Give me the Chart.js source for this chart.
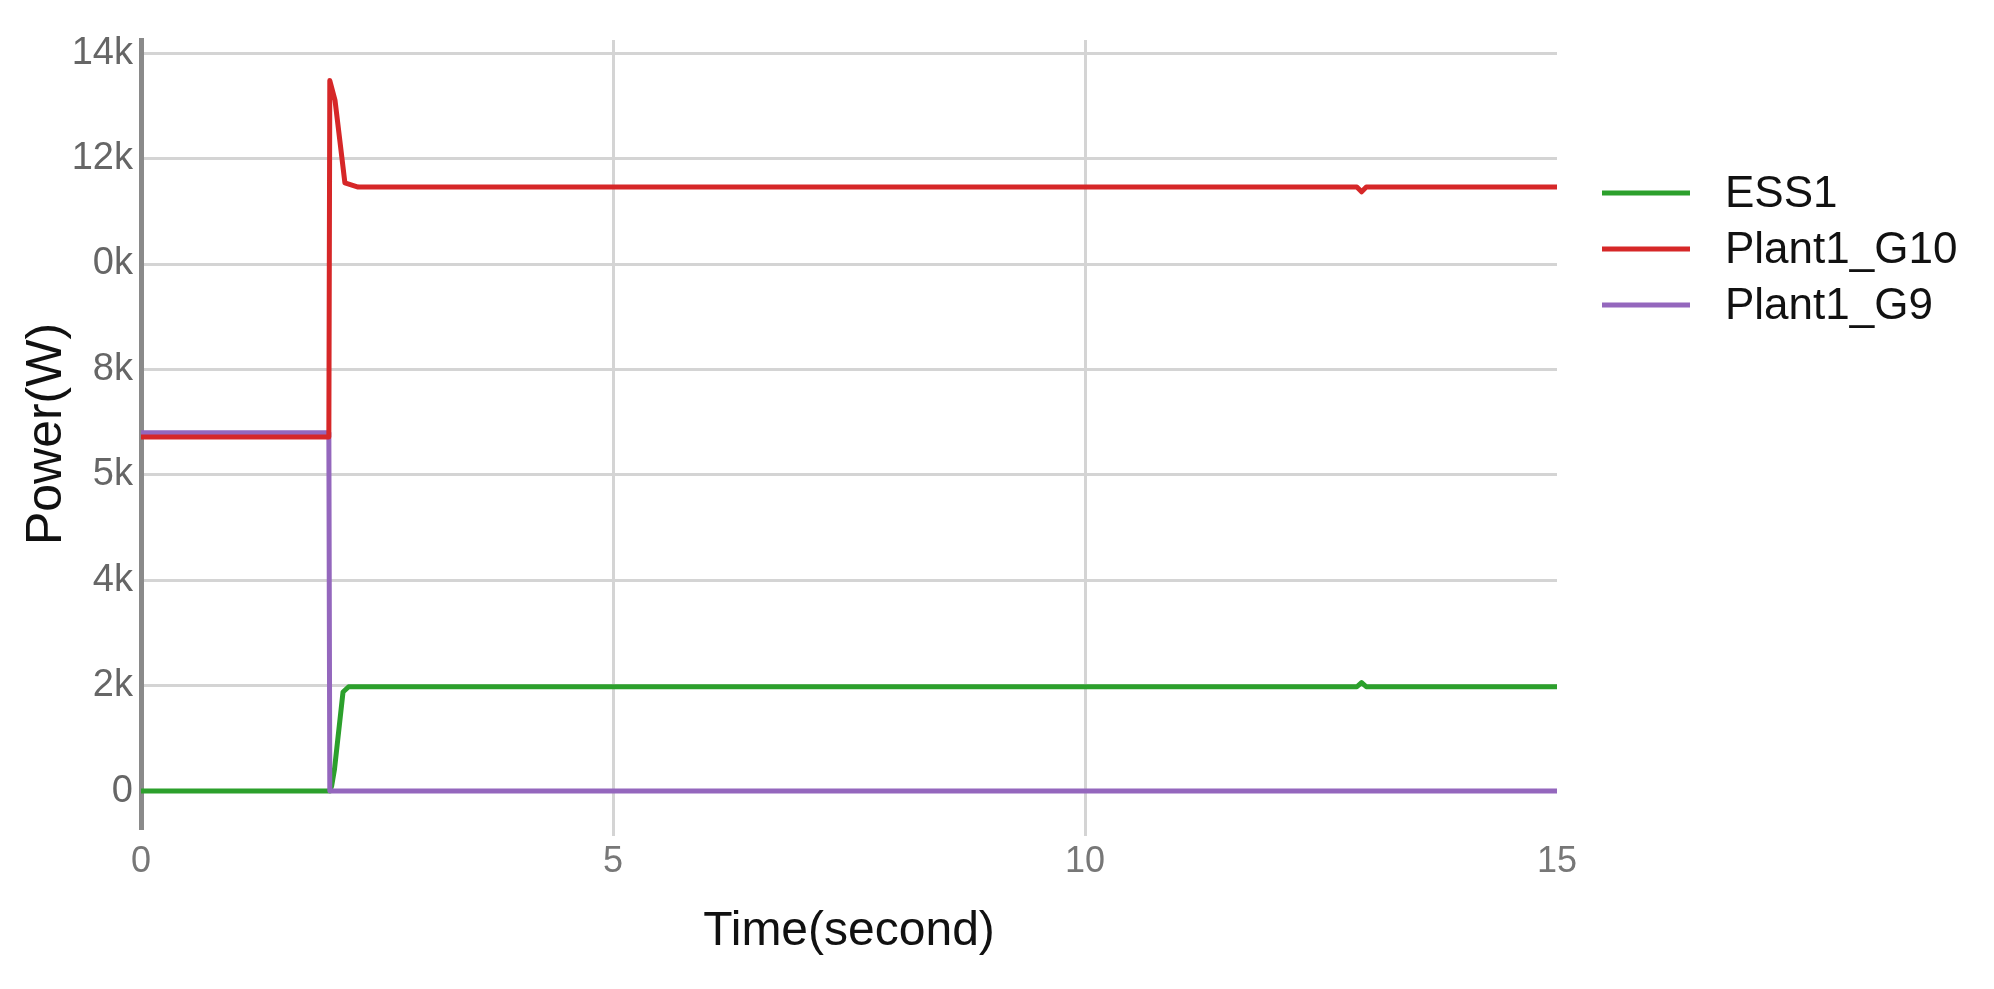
<!DOCTYPE html>
<html>
<head>
<meta charset="utf-8">
<script src="https://cdn.jsdelivr.net/npm/chart.js@4/dist/chart.umd.min.js"></script>
<style>
  html, body { margin: 0; padding: 0; background: #fff; }
  #wrap { width: 1994px; height: 989px; position: relative; }
</style>
</head>
<body>
<div id="wrap"><canvas id="myChart"></canvas></div>
<script>
(function() {
    'use strict';

    // values (time in seconds, power in W)
    const seriesNames = ['ESS1', 'Plant1_G10', 'Plant1_G9'];
    const seriesColors = ['#2ca02c', '#d62728', '#9467bd'];

    const essTime  = [0, 2.0, 2.02, 2.05, 2.14, 2.2, 12.88, 12.93, 12.98, 15];
    const essPower = [0, 0, 100, 420, 1880, 1980, 1980, 2060, 1980, 1980];

    const g10Time  = [0, 1.99, 2.0, 2.055, 2.16, 2.3, 12.88, 12.93, 12.98, 15];
    const g10Power = [6720, 6720, 13480, 13110, 11540, 11460, 11460, 11370, 11460, 11460];

    const g9Time  = [0, 1.99, 2.0, 15];
    const g9Power = [6800, 6800, 0, 0];

    const yTickValues = [0, 2000, 4000, 6000, 8000, 10000, 12000, 14000];
    const yTickLabels = ['0', '2k', '4k', '5k', '8k', '0k', '12k', '14k'];
    const xTickValues = [0, 5, 10, 15];

    const toPoints = (xs, ys) => xs.map((x, i) => ({ x: x, y: ys[i] }));

    const legendLines = {
        id: 'legendLines',
        afterDraw(chart) {
            const ctx = chart.ctx;
            const area = chart.chartArea;
            ctx.save();
            ctx.font = '44px "Liberation Sans", Arial, sans-serif';
            ctx.textBaseline = 'middle';
            ctx.fillStyle = '#111';
            chart.data.datasets.forEach((ds, i) => {
                const y = area.top + 153 + i * 56;
                ctx.strokeStyle = ds.borderColor;
                ctx.lineWidth = 5;
                ctx.beginPath();
                ctx.moveTo(area.right + 45, y);
                ctx.lineTo(area.right + 133, y);
                ctx.stroke();
                ctx.fillText(ds.label, area.right + 168, y + 2);
            });
            ctx.restore();
        }
    };

    const ctx = document.getElementById('myChart');

    new Chart(ctx, {
        type: 'line',
        data: {
            datasets: [
                { label: seriesNames[0], data: toPoints(essTime, essPower), borderColor: seriesColors[0], order: 2 },
                { label: seriesNames[1], data: toPoints(g10Time, g10Power), borderColor: seriesColors[1], order: 0 },
                { label: seriesNames[2], data: toPoints(g9Time, g9Power), borderColor: seriesColors[2], order: 1 }
            ]
        },
        plugins: [legendLines],
        options: {
            responsive: true,
            maintainAspectRatio: false,
            animation: false,
            layout: { padding: { left: 12, right: 437, top: 40, bottom: 20 } },
            elements: {
                point: { radius: 0 },
                line: { borderWidth: 5, tension: 0, fill: false, borderJoinStyle: 'round', borderCapStyle: 'round' }
            },
            plugins: {
                legend: { display: false },
                tooltip: { enabled: false }
            },
            scales: {
                x: {
                    type: 'linear',
                    min: 0,
                    max: 15,
                    afterFit: (s) => { s.height = 141; },
                    afterBuildTicks: (s) => { s.ticks = xTickValues.map(v => ({ value: v })); },
                    border: { display: false },
                    grid: {
                        color: (c) => (c.tick && (c.tick.value === 5 || c.tick.value === 10)) ? '#d4d4d4' : 'rgba(0,0,0,0)',
                        lineWidth: 3,
                        drawTicks: true,
                        tickLength: 8
                    },
                    ticks: {
                        color: '#777',
                        font: { family: '"Liberation Sans", Arial, sans-serif', size: 36 },
                        padding: 4,
                        maxRotation: 0
                    },
                    title: {
                        display: true,
                        text: 'Time(second)',
                        color: '#111',
                        font: { family: '"Liberation Sans", Arial, sans-serif', size: 48 },
                        padding: { top: 0, bottom: 8 }
                    }
                },
                y: {
                    type: 'linear',
                    min: -700,
                    max: 14250,
                    afterFit: (s) => { s.width = 129; },
                    afterBuildTicks: (s) => { s.ticks = yTickValues.map(v => ({ value: v })); },
                    border: { display: true, color: '#8a8a8a', width: 5 },
                    grid: { color: '#d4d4d4', lineWidth: 3, drawTicks: false },
                    ticks: {
                        color: '#666',
                        font: { family: '"Liberation Sans", Arial, sans-serif', size: 38 },
                        padding: 8,
                        callback: (v) => {
                            const i = yTickValues.indexOf(v);
                            return i >= 0 ? yTickLabels[i] : '';
                        }
                    },
                    title: {
                        display: true,
                        text: 'Power(W)',
                        color: '#111',
                        font: { family: '"Liberation Sans", Arial, sans-serif', size: 50 },
                        padding: { top: 5, bottom: 0 }
                    }
                }
            }
        }
    });
})();
</script>
</body>
</html>
